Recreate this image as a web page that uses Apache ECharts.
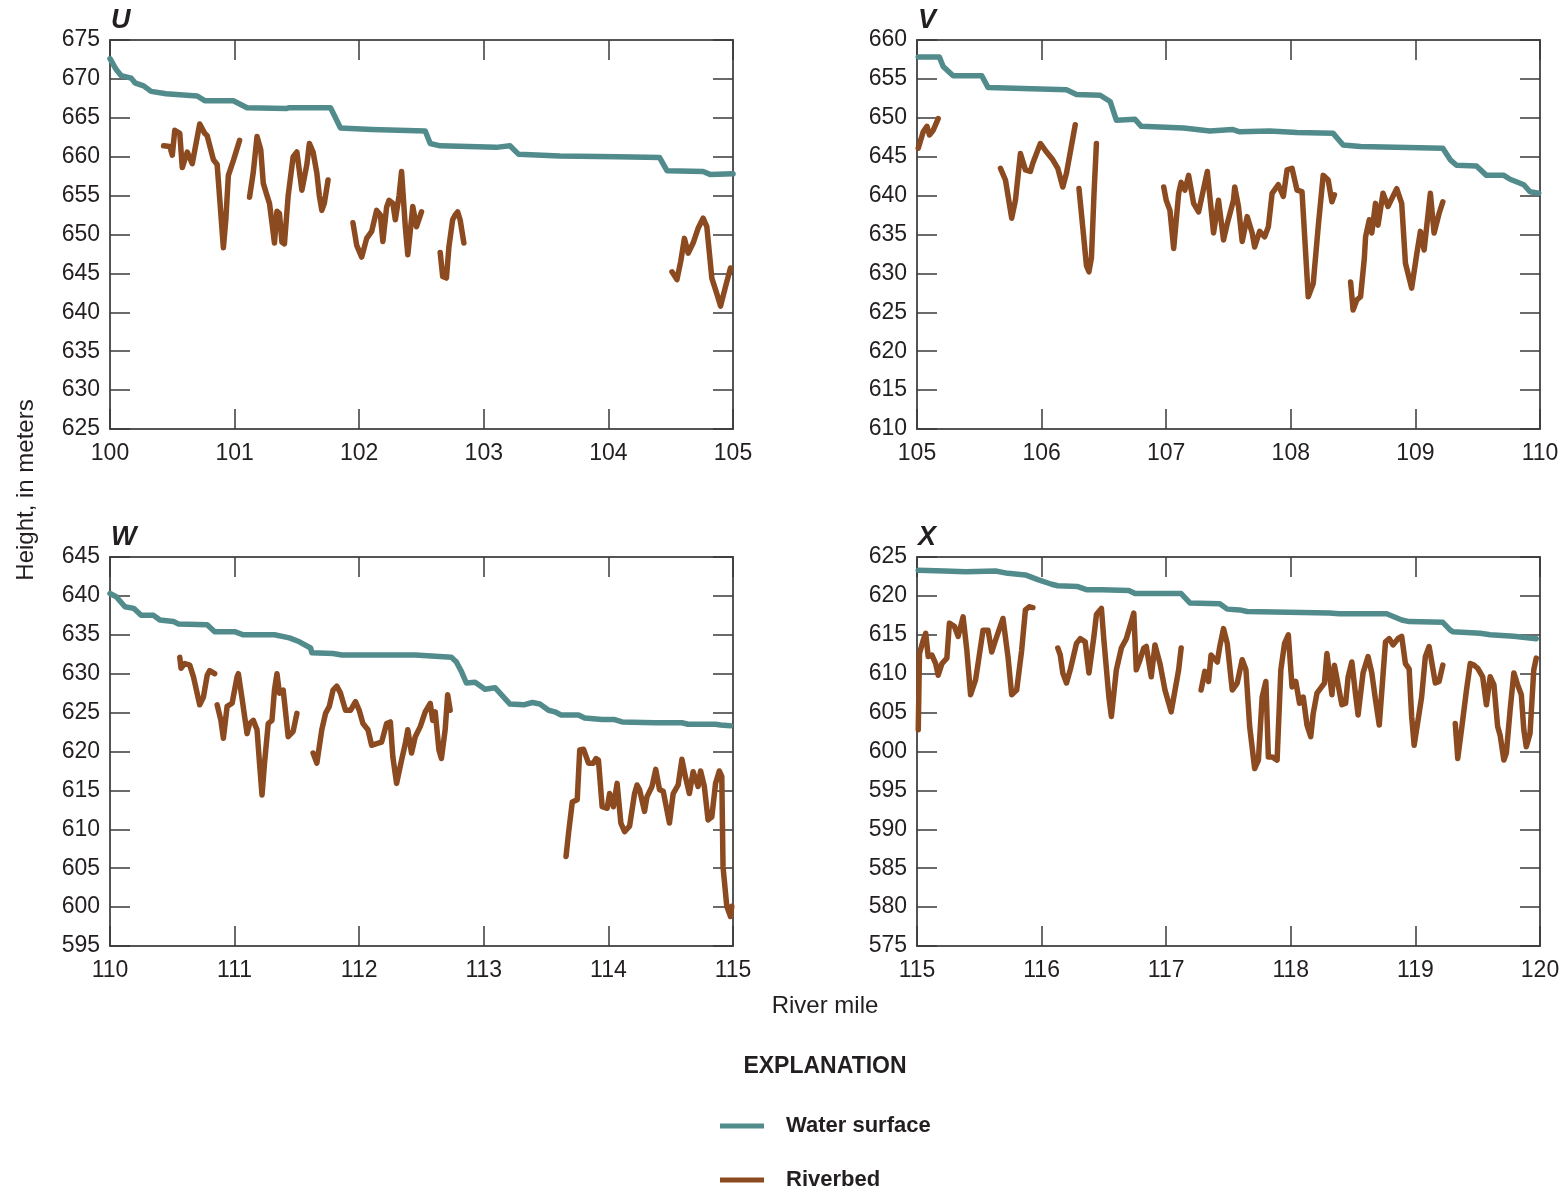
<!DOCTYPE html>
<html>
<head>
<meta charset="utf-8">
<script src="https://cdn.jsdelivr.net/npm/echarts@6/dist/echarts.min.js"></script>
<style>
  html, body { margin: 0; padding: 0; background: #ffffff; }
  #chart { width: 1566px; height: 1194px; }
</style>
</head>
<body>
<div id="chart"></div>
<script>
// River-mile ranges and height ranges of the four profile panels
const panelNames = ['U', 'V', 'W', 'X'];
const mileRanges = [[100, 105], [105, 110], [110, 115], [115, 120]];
const heightRanges = [[625, 675], [610, 660], [595, 645], [575, 625]];

// Panel U: river mile 100-105
const uWater = [[100.0,672.6],[100.05,671.2],[100.09,670.4],[100.17,670.1],[100.2,669.5],[100.27,669.1],[100.33,668.4],[100.45,668.1],[100.7,667.8],[100.76,667.2],[100.99,667.2],[101.1,666.3],[101.42,666.2],[101.44,666.3],[101.77,666.3],[101.85,663.7],[102.1,663.5],[102.53,663.3],[102.57,661.7],[102.65,661.4],[103.1,661.2],[103.21,661.4],[103.28,660.3],[103.61,660.1],[104.07,660.0],[104.41,659.9],[104.47,658.2],[104.76,658.1],[104.82,657.7],[105.0,657.8]];
const uBed = [
  [[100.43,661.4],[100.48,661.3],[100.50,660.2],[100.52,663.4],[100.56,663.0],[100.58,658.6],[100.62,660.6],[100.66,659.1],[100.72,664.2],[100.76,663.0],[100.78,662.7],[100.83,659.6],[100.86,659.0],[100.91,648.3],[100.93,652.0],[100.95,657.6],[100.99,659.5],[101.04,662.1]],
  [[101.12,654.8],[101.15,658.0],[101.18,662.6],[101.21,660.9],[101.23,656.6],[101.26,655.0],[101.28,654.0],[101.30,651.5],[101.32,648.9],[101.34,653.0],[101.36,652.7],[101.38,649.0],[101.40,648.8],[101.43,655.0],[101.47,660.0],[101.50,660.6],[101.54,655.7],[101.58,659.0],[101.60,661.7],[101.63,660.6],[101.66,657.9],[101.68,655.0],[101.70,653.1],[101.72,654.0],[101.75,657.0]],
  [[101.95,651.5],[101.98,648.6],[102.02,647.1],[102.06,649.5],[102.10,650.4],[102.14,653.1],[102.17,652.5],[102.19,649.1],[102.22,653.5],[102.24,654.4],[102.27,654.0],[102.29,651.9],[102.32,655.0],[102.34,658.1],[102.37,651.0],[102.39,647.4],[102.42,652.0],[102.43,653.6],[102.46,651.0],[102.50,652.9]],
  [[102.65,647.7],[102.67,644.6],[102.70,644.4],[102.72,648.4],[102.75,651.9],[102.77,652.5],[102.79,652.9],[102.81,651.9],[102.84,648.9]],
  [[104.51,645.2],[104.55,644.2],[104.58,646.5],[104.61,649.5],[104.64,647.6],[104.68,648.9],[104.72,650.8],[104.76,652.1],[104.79,651.0],[104.83,644.4],[104.87,642.4],[104.90,640.8],[104.94,643.3],[104.98,645.7]]
];

// Panel V: river mile 105-110
const vWater = [[105.01,657.8],[105.18,657.8],[105.21,656.6],[105.29,655.4],[105.52,655.4],[105.57,653.9],[106.20,653.6],[106.28,653.0],[106.47,652.9],[106.55,652.1],[106.60,649.7],[106.75,649.8],[106.80,648.9],[107.14,648.7],[107.35,648.3],[107.53,648.5],[107.59,648.2],[107.83,648.3],[108.05,648.1],[108.34,648.0],[108.42,646.5],[108.56,646.3],[109.22,646.1],[109.28,644.6],[109.33,643.9],[109.49,643.8],[109.57,642.6],[109.71,642.6],[109.76,642.1],[109.87,641.4],[109.92,640.5],[109.99,640.3]];
const vBed = [
  [[105.01,646.1],[105.05,648.2],[105.08,648.9],[105.10,647.8],[105.13,648.4],[105.17,649.9]],
  [[105.67,643.5],[105.71,642.0],[105.76,637.1],[105.79,639.4],[105.83,645.4],[105.87,643.3],[105.91,643.1],[105.93,644.2],[105.99,646.7],[106.04,645.6],[106.09,644.6],[106.13,643.5],[106.17,641.1],[106.20,642.9],[106.27,649.1]],
  [[106.30,640.9],[106.33,636.0],[106.36,631.0],[106.38,630.2],[106.40,632.0],[106.42,640.0],[106.44,646.7]],
  [[106.98,641.1],[107.00,639.4],[107.03,638.1],[107.06,633.2],[107.10,640.3],[107.12,641.7],[107.15,640.7],[107.18,642.6],[107.22,639.0],[107.26,637.9],[107.33,643.1],[107.38,635.2],[107.42,639.4],[107.46,634.3],[107.49,636.4],[107.54,639.4],[107.55,641.1],[107.58,638.6],[107.61,634.1],[107.65,637.3],[107.69,635.2],[107.71,633.4],[107.75,635.4],[107.79,634.7],[107.82,636.0],[107.85,640.3],[107.90,641.4],[107.94,639.9],[107.97,643.3],[108.01,643.5],[108.05,640.7],[108.09,640.5],[108.14,627.0],[108.18,628.7],[108.22,636.0],[108.26,642.6],[108.30,642.0],[108.33,639.2],[108.35,640.1]],
  [[108.48,628.9],[108.50,625.3],[108.53,626.6],[108.56,627.0],[108.59,631.9],[108.60,634.7],[108.63,636.9],[108.65,635.2],[108.68,639.0],[108.70,636.2],[108.74,640.3],[108.78,638.6],[108.85,640.9],[108.89,639.0],[108.92,631.3],[108.97,628.1],[109.01,632.4],[109.04,635.4],[109.07,633.0],[109.12,640.3],[109.15,635.2],[109.19,637.7],[109.22,639.2]]
];

// Panel W: river mile 110-115
const wWater = [[110.0,640.3],[110.05,639.9],[110.12,638.6],[110.19,638.4],[110.25,637.5],[110.35,637.5],[110.40,636.9],[110.51,636.7],[110.55,636.4],[110.78,636.3],[110.84,635.4],[111.00,635.4],[111.07,635.0],[111.32,635.0],[111.44,634.6],[111.52,634.1],[111.61,633.3],[111.62,632.7],[111.79,632.6],[111.86,632.4],[112.45,632.4],[112.74,632.1],[112.78,631.5],[112.82,630.3],[112.86,628.8],[112.93,628.9],[113.01,628.0],[113.09,628.2],[113.13,627.5],[113.21,626.1],[113.32,626.0],[113.39,626.3],[113.45,626.1],[113.52,625.3],[113.57,625.1],[113.62,624.7],[113.76,624.7],[113.81,624.3],[113.95,624.1],[114.05,624.1],[114.11,623.8],[114.37,623.7],[114.59,623.7],[114.64,623.5],[114.86,623.5],[114.90,623.4],[114.98,623.3]];
const wBed = [
  [[110.56,632.1],[110.57,630.7],[110.60,631.3],[110.64,631.1],[110.67,629.6],[110.72,626.0],[110.75,627.0],[110.78,629.8],[110.80,630.4],[110.84,630.0]],
  [[110.86,626.0],[110.89,624.0],[110.91,621.7],[110.94,625.8],[110.98,626.2],[111.02,629.6],[111.03,630.0],[111.06,626.8],[111.10,622.3],[111.12,623.6],[111.15,624.0],[111.18,622.8],[111.20,618.5],[111.22,614.4],[111.24,618.5],[111.27,623.6],[111.30,624.0],[111.32,627.9],[111.34,630.0],[111.36,627.5],[111.39,627.9],[111.43,621.9],[111.47,622.6],[111.50,624.9]],
  [[111.63,619.8],[111.66,618.5],[111.70,622.8],[111.73,624.9],[111.76,625.8],[111.79,627.9],[111.82,628.4],[111.85,627.5],[111.89,625.3],[111.93,625.3],[111.97,626.4],[112.00,625.3],[112.03,623.6],[112.07,622.8],[112.10,620.8],[112.14,621.0],[112.18,621.2],[112.22,623.6],[112.25,623.8],[112.27,619.3],[112.30,615.9],[112.34,618.9],[112.37,621.0],[112.39,622.8],[112.42,619.8],[112.45,621.9],[112.49,623.2],[112.53,625.1],[112.57,626.2],[112.59,624.0],[112.61,625.1],[112.64,620.2],[112.66,619.1],[112.69,622.8],[112.71,627.3],[112.73,625.3]],
  [[113.66,606.5],[113.68,609.5],[113.71,613.5],[113.75,613.8],[113.77,620.2],[113.80,620.3],[113.84,618.5],[113.88,618.5],[113.90,619.1],[113.92,618.9],[113.95,612.9],[113.99,612.7],[114.01,614.6],[114.04,612.9],[114.07,615.9],[114.10,610.8],[114.13,609.7],[114.17,610.4],[114.21,614.6],[114.23,615.7],[114.25,615.1],[114.29,612.3],[114.31,614.2],[114.35,615.5],[114.38,617.7],[114.41,615.1],[114.44,614.9],[114.49,610.8],[114.52,614.6],[114.56,615.7],[114.59,619.0],[114.62,616.6],[114.65,614.6],[114.68,617.4],[114.72,615.5],[114.74,617.5],[114.77,615.5],[114.80,611.2],[114.83,611.6],[114.86,615.9],[114.89,617.5],[114.91,616.8],[114.92,605.2],[114.95,600.1],[114.98,598.8],[114.99,600.1]]
];

// Panel X: river mile 115-120
const xWater = [[115.01,623.3],[115.22,623.2],[115.39,623.1],[115.63,623.2],[115.73,622.9],[115.87,622.7],[115.97,622.1],[116.08,621.5],[116.13,621.3],[116.29,621.2],[116.36,620.8],[116.48,620.8],[116.70,620.7],[116.75,620.3],[117.12,620.3],[117.19,619.1],[117.43,619.0],[117.49,618.3],[117.59,618.2],[117.65,618.0],[118.31,617.8],[118.39,617.7],[118.77,617.7],[118.89,616.9],[118.95,616.7],[119.22,616.6],[119.28,615.6],[119.30,615.4],[119.52,615.2],[119.60,615.0],[119.79,614.8],[119.97,614.5]];
const xBed = [
  [[115.01,602.8],[115.02,612.6],[115.05,614.3],[115.07,615.2],[115.09,612.2],[115.12,612.4],[115.15,611.3],[115.17,609.8],[115.20,611.3],[115.24,612.0],[115.26,616.5],[115.30,616.1],[115.33,614.8],[115.37,617.3],[115.40,613.0],[115.43,607.3],[115.47,609.2],[115.49,611.3],[115.53,615.6],[115.57,615.6],[115.60,612.8],[115.63,614.3],[115.69,617.1],[115.73,612.2],[115.76,607.3],[115.80,607.9],[115.84,613.0],[115.87,618.2],[115.90,618.6],[115.93,618.5]],
  [[116.13,613.3],[116.15,612.4],[116.17,610.1],[116.20,608.8],[116.23,610.5],[116.28,613.9],[116.31,614.5],[116.35,614.1],[116.38,610.1],[116.42,614.8],[116.44,617.6],[116.48,618.4],[116.50,614.3],[116.54,607.0],[116.56,604.5],[116.60,610.5],[116.64,613.3],[116.68,614.5],[116.74,617.8],[116.76,610.5],[116.79,611.8],[116.82,613.3],[116.84,613.5],[116.88,609.6],[116.91,613.7],[116.95,611.3],[116.99,607.9],[117.04,605.1],[117.10,610.5],[117.12,613.3]],
  [[117.28,607.9],[117.31,610.3],[117.34,609.0],[117.36,612.4],[117.41,611.5],[117.43,613.5],[117.46,615.8],[117.49,613.9],[117.53,607.9],[117.57,608.8],[117.61,611.8],[117.64,610.5],[117.67,603.2],[117.71,597.8],[117.74,598.9],[117.77,607.0],[117.80,609.0],[117.82,599.3],[117.85,599.3],[117.89,598.9],[117.92,610.5],[117.95,613.9],[117.98,615.0],[118.01,608.3],[118.04,609.0],[118.07,606.2],[118.10,607.0],[118.13,603.4],[118.16,601.9],[118.18,604.9],[118.21,607.5],[118.27,608.8],[118.29,612.6],[118.33,607.3],[118.35,611.1],[118.41,606.0],[118.44,606.2],[118.46,609.6],[118.49,611.5],[118.52,607.3],[118.54,604.7],[118.58,610.1],[118.62,612.2],[118.65,610.1],[118.68,606.6],[118.71,603.4],[118.76,614.1],[118.79,614.5],[118.82,613.7],[118.86,614.5],[118.89,614.8],[118.92,611.3],[118.95,610.6],[118.97,604.5],[118.99,600.8],[119.05,607.0],[119.08,612.2],[119.11,613.5],[119.16,608.8],[119.19,609.0],[119.22,611.1]],
  [[119.32,603.6],[119.34,599.1],[119.37,602.8],[119.41,607.9],[119.44,611.3],[119.47,611.1],[119.50,610.7],[119.54,609.6],[119.57,606.0],[119.60,609.6],[119.63,608.6],[119.66,603.2],[119.68,602.1],[119.71,598.9],[119.73,599.8],[119.76,605.3],[119.79,610.1],[119.82,608.6],[119.85,607.3],[119.87,602.8],[119.89,600.6],[119.92,602.3],[119.95,610.5],[119.97,612.0]]
];

const waterSets = [uWater, vWater, wWater, xWater];
const bedSets = [uBed, vBed, wBed, xBed];

const WATER = '#528b8c';
const BED = '#8b4a1f';
const FONT = '"Liberation Sans", Arial, sans-serif';
const AXIS_COLOR = '#555555';
const TICK_COLOR = '#3a3a3a';

const gridPos = [
  { left: 110, top: 40 },
  { left: 917, top: 40 },
  { left: 110, top: 557 },
  { left: 917, top: 557 }
];

const grids = [], xAxes = [], yAxes = [], series = [], titles = [];

panelNames.forEach((name, i) => {
  grids.push({ left: gridPos[i].left, top: gridPos[i].top, width: 623, height: 389 });
  const [xmin, xmax] = mileRanges[i];
  const [ymin, ymax] = heightRanges[i];
  const lineStyle = { color: AXIS_COLOR, width: 2 };
  const tick = { show: true, inside: true, length: 20, lineStyle: { color: TICK_COLOR, width: 1.5 } };

  // bottom (labelled) and top (ticks only) mile axes
  xAxes.push({
    type: 'value', gridIndex: i, position: 'bottom', min: xmin, max: xmax, interval: 1,
    axisLine: { show: true, lineStyle }, axisTick: tick, splitLine: { show: false },
    axisLabel: { show: true, margin: 13, fontSize: 23, color: '#231f20', fontFamily: FONT, showMinLabel: true, showMaxLabel: true }
  });
  xAxes.push({
    type: 'value', gridIndex: i, position: 'top', min: xmin, max: xmax, interval: 1,
    axisLine: { show: true, onZero: false, lineStyle }, axisTick: tick, splitLine: { show: false },
    axisLabel: { show: false }
  });
  // left (labelled) and right (ticks only) height axes
  yAxes.push({
    type: 'value', gridIndex: i, position: 'left', min: ymin, max: ymax, interval: 5,
    axisLine: { show: true, onZero: false, lineStyle }, axisTick: tick, splitLine: { show: false },
    axisLabel: { show: true, margin: 10, fontSize: 23, color: '#231f20', fontFamily: FONT, showMinLabel: true, showMaxLabel: true }
  });
  yAxes.push({
    type: 'value', gridIndex: i, position: 'right', min: ymin, max: ymax, interval: 5,
    axisLine: { show: true, onZero: false, lineStyle }, axisTick: tick, splitLine: { show: false },
    axisLabel: { show: false }
  });

  series.push({
    name: 'Water surface', type: 'line', xAxisIndex: 2 * i, yAxisIndex: 2 * i,
    data: waterSets[i], showSymbol: false, symbol: 'none', silent: true,
    lineStyle: { color: WATER, width: 5.5, cap: 'round', join: 'round' },
    itemStyle: { color: WATER }, z: 3
  });
  bedSets[i].forEach(seg => {
    series.push({
      name: 'Riverbed', type: 'line', xAxisIndex: 2 * i, yAxisIndex: 2 * i,
      data: seg, showSymbol: false, symbol: 'none', silent: true,
      lineStyle: { color: BED, width: 5.5, cap: 'round', join: 'round' },
      itemStyle: { color: BED }, z: 4
    });
  });

  titles.push({
    text: name, left: gridPos[i].left + 1, top: gridPos[i].top - 33, padding: 0,
    textStyle: { fontSize: 27, fontWeight: 'bold', fontStyle: 'italic', color: '#231f20', fontFamily: FONT }
  });
});

titles.push({
  text: 'EXPLANATION', left: 825, top: 1055, textAlign: 'center', padding: 0,
  textStyle: { fontSize: 23, fontWeight: 'bold', color: '#231f20', fontFamily: FONT }
});

const legendText = { fontSize: 22, fontWeight: 'bold', color: '#231f20', fontFamily: FONT, padding: [0, 0, 0, 17] };

const option = {
  animation: false,
  backgroundColor: '#ffffff',
  title: titles,
  grid: grids,
  xAxis: xAxes,
  yAxis: yAxes,
  series: series,
  legend: [
    { data: ['Water surface'], left: 720, top: 1115, padding: 0, icon: 'rect', itemWidth: 44, itemHeight: 5, textStyle: legendText, selectedMode: false },
    { data: ['Riverbed'], left: 720, top: 1169, padding: 0, icon: 'rect', itemWidth: 44, itemHeight: 5, textStyle: legendText, selectedMode: false }
  ],
  graphic: [
    {
      type: 'text', x: 26, y: 490, rotation: Math.PI / 2,
      style: { text: 'Height, in meters', fontSize: 24, fontFamily: FONT, fill: '#231f20', align: 'center', verticalAlign: 'middle' }
    },
    {
      type: 'text', x: 825, y: 1006,
      style: { text: 'River mile', fontSize: 24, fontFamily: FONT, fill: '#231f20', align: 'center', verticalAlign: 'middle' }
    }
  ]
};

const chart = echarts.init(document.getElementById('chart'), null, { renderer: 'canvas' });
chart.setOption(option);
</script>
</body>
</html>
